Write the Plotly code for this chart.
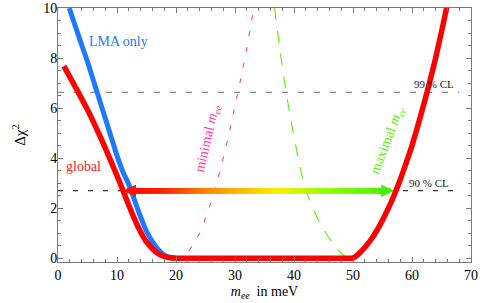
import numpy as np
import plotly.graph_objects as go

# ---------------- data ----------------
global_left_x = [1, 2, 3, 4, 5, 6, 7, 8, 9, 10, 11, 12, 13, 14, 15, 16, 17, 18, 19, 20]
global_left_y = [7.68, 7.25, 6.82, 6.38, 5.93, 5.45, 4.94, 4.41, 3.86, 3.3, 2.72, 2.12, 1.55,
                 1.05, 0.65, 0.38, 0.18, 0.07, 0.02, 0.0]
global_right_x = [50, 51, 52, 53, 54, 55, 56, 57, 58, 59, 60, 61, 62, 63, 64, 65, 66]
global_right_y = [0.0, 0.18, 0.43, 0.73, 1.09, 1.52, 2.0, 2.54, 3.14, 3.8, 4.5, 5.3, 6.15,
                  7.05, 8.0, 9.05, 10.15]

lma_x = [1.9, 3, 4, 5, 6, 7, 8, 9, 10, 11, 12, 13, 14, 15, 16, 17, 18, 19, 20]
lma_y = [10.0, 9.23, 8.53, 7.85, 7.1, 6.35, 5.6, 4.85, 4.1, 3.45, 2.95, 2.3, 1.65, 1.08,
         0.66, 0.34, 0.12, 0.03, 0.0]

minimal_x = [22.2, 23, 24, 25, 26, 27, 28, 29, 30, 31, 32, 33, 33.2]
minimal_y = [0.3, 0.6, 1.0, 1.6, 2.3, 3.1, 4.0, 5.0, 6.1, 7.2, 8.4, 9.75, 10.0]

maximal_x = [36.7, 37.5, 38.6, 39.5, 40.5, 41.3, 41.9, 42.5, 43.2, 44.0, 44.8, 45.7, 46.6,
             47.4, 48.2, 48.6]
maximal_y = [10.0, 8.55, 6.73, 5.5, 4.25, 3.35, 2.8, 2.4, 2.0, 1.6, 1.25, 0.9, 0.6,
             0.35, 0.16, 0.08]

cl99 = 6.63
cl90 = 2.7
cl_line_x = [0, 68]
arrow_x = [11.1, 56.9]

x_ticks = [0, 10, 20, 30, 40, 50, 60, 70]
y_ticks = [0, 2, 4, 6, 8, 10]

SERIF = "Liberation Serif"
RED = "#ff0000"
BLUE = "#1f78ff"
PINK = "#ff3fa6"
GREEN = "#5cf000"
FRAME = "#7a7a7a"

fig = go.Figure()

def line(x, y, color, width, dash="solid", shape="spline"):
    fig.add_trace(go.Scatter(x=x, y=y, mode="lines",
                             line=dict(color=color, width=width, dash=dash, shape=shape,
                                       smoothing=0.8),
                             hoverinfo="skip", showlegend=False))

# confidence level lines
line(cl_line_x, [cl99, cl99], "#8c8c8c", 1.2, "6px,10px", "linear")
line(cl_line_x, [cl90, cl90], "#333333", 1.2, "5px,10px", "linear")

# minimal / maximal m_ee curves
line(minimal_x, minimal_y, PINK, 1.1, "5px,11px")
line(maximal_x, maximal_y, GREEN, 1.1, "12px,11px")

# gradient arrow shaft
shaft = np.linspace(arrow_x[0] + 1.5, arrow_x[1] - 1.5, 600)
fig.add_trace(go.Scatter(
    x=shaft, y=[cl90] * len(shaft), mode="markers",
    marker=dict(symbol="square", size=5, color=shaft, cmin=arrow_x[0], cmax=arrow_x[1],
                colorscale=[[0.0, "#ff0000"], [0.15, "#ff2200"], [0.33, "#ff8c00"],
                            [0.57, "#ffee00"], [0.78, "#88ff00"], [1.0, "#44ee00"]],
                line=dict(width=0), showscale=False),
    hoverinfo="skip", showlegend=False))

# LMA only and global curves
line(lma_x, lma_y, BLUE, 5)
line(global_left_x, global_left_y, RED, 5.5)
line([global_left_x[-1], global_right_x[0]], [global_left_y[-1], global_right_y[0]], RED, 5.5,
     shape="linear")
line(global_right_x, global_right_y, RED, 5.5)

# arrow heads
fig.add_annotation(x=arrow_x[0], y=cl90, ax=16, ay=0, text="", showarrow=True,
                   arrowhead=2, arrowsize=0.5, arrowwidth=5, arrowcolor="#ff1000", standoff=0)
fig.add_annotation(x=arrow_x[1], y=cl90, ax=-16, ay=0, text="", showarrow=True,
                   arrowhead=2, arrowsize=0.5, arrowwidth=5, arrowcolor="#44ee00", standoff=0)

# labels
fig.add_annotation(x=10.2, y=8.65, text="LMA only", showarrow=False,
                   font=dict(family=SERIF, size=14, color=BLUE))
fig.add_annotation(x=4.4, y=3.66, text="global", showarrow=False,
                   font=dict(family=SERIF, size=14, color="#ff2020"))
fig.add_annotation(x=25.5, y=4.81, text="minimal <i>m<sub>ee</sub></i>", showarrow=False,
                   textangle=-77, font=dict(family=SERIF, size=14, color=PINK))
fig.add_annotation(x=56.0, y=4.73, text="maximal <i>m<sub>ee</sub></i>", showarrow=False,
                   textangle=-69, font=dict(family=SERIF, size=14, color=GREEN))
fig.add_annotation(x=63.7, y=6.97, text="99 % CL", showarrow=False,
                   font=dict(family=SERIF, size=11, color="#222222"))
fig.add_annotation(x=62.8, y=3.0, text="90 % CL", showarrow=False,
                   font=dict(family=SERIF, size=11, color="#222222"))

axis_common = dict(ticks="inside", ticklen=5, tickcolor=FRAME, tickwidth=1,
                   showline=True, linecolor=FRAME, linewidth=1, mirror="allticks",
                   showgrid=False, zeroline=False, automargin=False,
                   tickfont=dict(family=SERIF, size=14, color="black"))

fig.update_layout(
    width=491, height=303,
    margin=dict(l=58, r=20, t=8, b=41),
    paper_bgcolor="white", plot_bgcolor="white",
    font=dict(family=SERIF),
    xaxis=dict(range=[0, 70], tickvals=x_ticks, ticktext=[str(v) for v in x_ticks],
               ticklabelstandoff=0,
               minor=dict(dtick=2, tick0=0, ticks="inside", ticklen=3, tickcolor=FRAME),
               title=dict(text="<i>m<sub>ee</sub></i>  in meV", standoff=4,
                          font=dict(family=SERIF, size=14, color="black")),
               **axis_common),
    yaxis=dict(range=[-0.15, 10], tickvals=y_ticks, ticktext=[str(v) for v in y_ticks],
               ticklabelstandoff=-3,
               minor=dict(dtick=0.5, tick0=0, ticks="inside", ticklen=3, tickcolor=FRAME),
               title=dict(text="Δχ<sup>2</sup>", standoff=13,
                          font=dict(family=SERIF, size=15, color="black")),
               **axis_common),
    showlegend=False,
)

fig.write_html("out.html", config={"displayModeBar": False},
               post_script="document.body.style.margin='0';document.body.style.overflow='hidden';")
